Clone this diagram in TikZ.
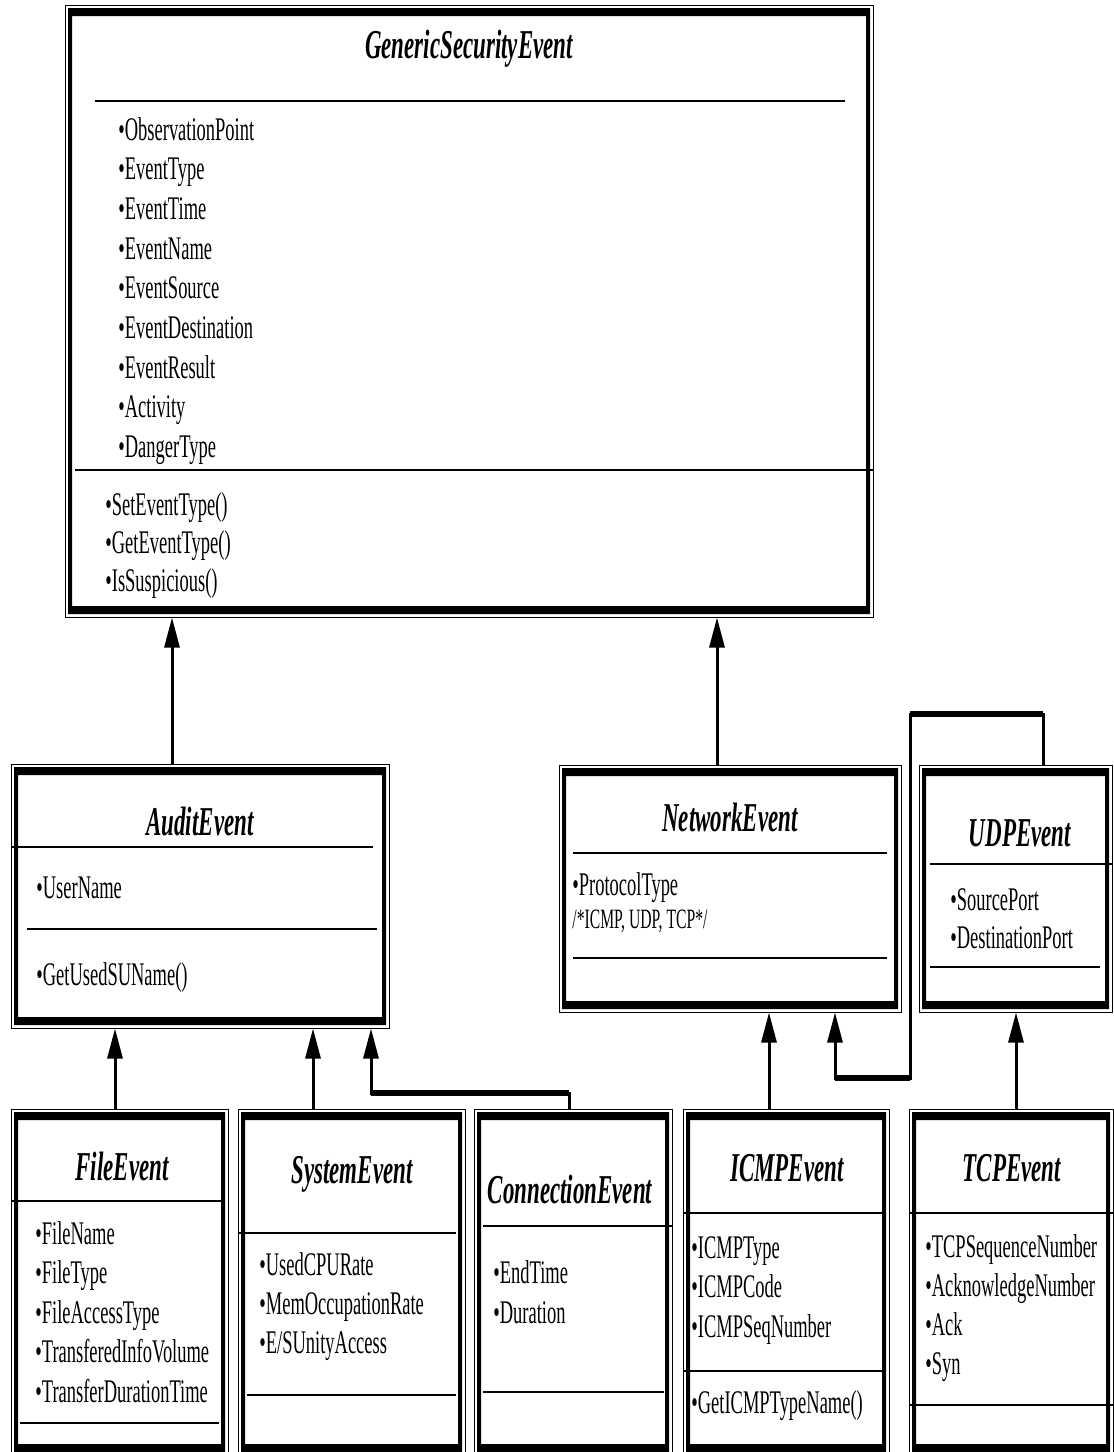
\documentclass[tikz,border=0pt]{standalone}
\usepackage{fontspec}
\setmainfont{Liberation Serif}[FakeStretch=0.56]
\usetikzlibrary{arrows.meta,calc,fit}

\tikzset{
	classbox/.style={draw, line width=0.5pt, inner sep=0pt,
		path picture={\fill[even odd rule]
			($(path picture bounding box.north west)+(3,3)$) rectangle ($(path picture bounding box.south east)+(-3,-3)$)
			($(path picture bounding box.north west)+(7,11)$) rectangle ($(path picture bounding box.south east)+(-7,-11)$);}},
	title/.style={font=\fontsize{20.5}{24}\selectfont\bfseries\itshape, inner sep=0pt, anchor=base},
	attr/.style={font=\fontsize{16.5}{20}\selectfont, inner sep=0pt, anchor=base west},
	comment/.style={font=\fontsize{14}{17}\selectfont, inner sep=0pt, anchor=base west},
	sep/.style={line width=1pt},
	inherit/.style={->, line width=1.5pt},
	bar/.style={line width=3pt}
}

\begin{document}
\begin{tikzpicture}[x=0.5pt, y=-0.5pt, >={Triangle[length=15pt,width=7.5pt]}]
	\useasboundingbox (0,0) rectangle (1114,1452);

	% Boxes {generic, audit, network, udp, file, system, conn, icmp, tcp}
	\node [classbox, fit={(65,5) (873,617)}]		(generic) {};
	\node [classbox, fit={(11,764) (389,1028)}]	(audit) {};
	\node [classbox, fit={(559,765) (901,1012)}]	(network) {};
	\node [classbox, fit={(919,765) (1112,1012)}]	(udp) {};
	\node [classbox, fit={(11,1109) (228,1455)}]	(file) {};
	\node [classbox, fit={(238,1109) (465,1455)}]	(system) {};
	\node [classbox, fit={(474,1109) (672,1455)}]	(conn) {};
	\node [classbox, fit={(683,1109) (889,1455)}]	(icmp) {};
	\node [classbox, fit={(909,1109) (1113,1455)}]	(tcp) {};

	% GenericSecurityEvent
	\node [title] (gtitle) at (469,58) {GenericSecurityEvent};
	\draw [sep] (95,101) -- (845,101);
	\foreach \t [count=\i from 0] in {ObservationPoint, EventType, EventTime, EventName, EventSource, EventDestination, EventResult, Activity, DangerType}
		\node [attr] (gattr\i) at (118,{140+39.7*\i}) {•\t};
	\draw [sep] (75,470) -- (873,470);
	\foreach \t [count=\i from 0] in {SetEventType(), GetEventType(), IsSuspicious()}
		\node [attr] (gop\i) at (105,{515+38*\i}) {•\t};

	% AuditEvent
	\node [title] (atitle) at (200,835) {AuditEvent};
	\draw [sep] (12,847) -- (373,847);
	\node [attr] (aattr) at (36,898) {•UserName};
	\draw [sep] (27,929) -- (377,929);
	\node [attr] (aop) at (36,985) {•GetUsedSUName()};

	% NetworkEvent
	\node [title] (ntitle) at (730,831) {NetworkEvent};
	\draw [sep] (573,853) -- (887,853);
	\node [attr] (nattr) at (572,895) {•ProtocolType};
	\node [comment] (ncomment) at (572,928) {/*ICMP, UDP, TCP*/};
	\draw [sep] (573,958) -- (887,958);

	% UDPEvent
	\node [title] (utitle) at (1020,846) {UDPEvent};
	\draw [sep] (930,864) -- (1112,864);
	\node [attr] (uattr0) at (950,910) {•SourcePort};
	\node [attr] (uattr1) at (950,948) {•DestinationPort};
	\draw [sep] (930,967) -- (1100,967);

	% FileEvent
	\node [title] (ftitle) at (122,1180) {FileEvent};
	\draw [sep] (11,1201) -- (223,1201);
	\foreach \t [count=\i from 0] in {FileName, FileType, FileAccessType, TransferedInfoVolume, TransferDurationTime}
		\node [attr] (fattr\i) at (35,{1244+39.5*\i}) {•\t};
	\draw [sep] (20,1423) -- (219,1423);

	% SystemEvent
	\node [title] (stitle) at (352,1183) {SystemEvent};
	\draw [sep] (238,1233) -- (456,1233);
	\foreach \t [count=\i from 0] in {UsedCPURate, MemOccupationRate, E/SUnityAccess}
		\node [attr] (sattr\i) at (259,{1275+39*\i}) {•\t};
	\draw [sep] (247,1395) -- (456,1395);

	% ConnectionEvent
	\node [title] (ctitle) at (570,1203) {ConnectionEvent};
	\draw [sep] (483,1226) -- (672,1226);
	\node [attr] (cattr0) at (493,1283) {•EndTime};
	\node [attr] (cattr1) at (493,1323) {•Duration};
	\draw [sep] (483,1392) -- (664,1392);

	% ICMPEvent
	\node [title] (ititle) at (787,1181) {ICMPEvent};
	\draw [sep] (683,1213) -- (882,1213);
	\foreach \t [count=\i from 0] in {ICMPType, ICMPCode, ICMPSeqNumber}
		\node [attr] (iattr\i) at (691,{1258+39.5*\i}) {•\t};
	\draw [sep] (683,1371) -- (882,1371);
	\node [attr] (iop) at (691,1413) {•GetICMPTypeName()};

	% TCPEvent
	\node [title] (ttitle) at (1012,1181) {TCPEvent};
	\draw [sep] (909,1213) -- (1113,1213);
	\foreach \t [count=\i from 0] in {TCPSequenceNumber, AcknowledgeNumber, Ack, Syn}
		\node [attr] (tattr\i) at (925,{1257+39.3*\i}) {•\t};
	\draw [sep] (909,1405) -- (1113,1405);

	% Paths
	\draw [inherit] (172,0 |- audit.north) -- (172,0 |- generic.south);
	\draw [inherit] (717,0 |- network.north) -- (717,0 |- generic.south);
	\draw [inherit] (115,0 |- file.north) -- (115,0 |- audit.south);
	\draw [inherit] (313,0 |- system.north) -- (313,0 |- audit.south);
	\draw [inherit] (conn.north -| 569,0) |- (371,1093) -- (371,0 |- audit.south);
	\draw [inherit] (769,0 |- icmp.north) -- (769,0 |- network.south);
	\draw [inherit] (udp.north -| 1043,0) |- (910,714) |- (835,1078) -- (835,0 |- network.south);
	\draw [inherit] (1016,0 |- tcp.north) -- (1016,0 |- udp.south);
	% heavier horizontal runs
	\draw [bar] (371,1093) -- (569,1093);
	\draw [bar] (910,714) -- (1043,714);
	\draw [bar] (835,1078) -- (910,1078);
\end{tikzpicture}
\end{document}
